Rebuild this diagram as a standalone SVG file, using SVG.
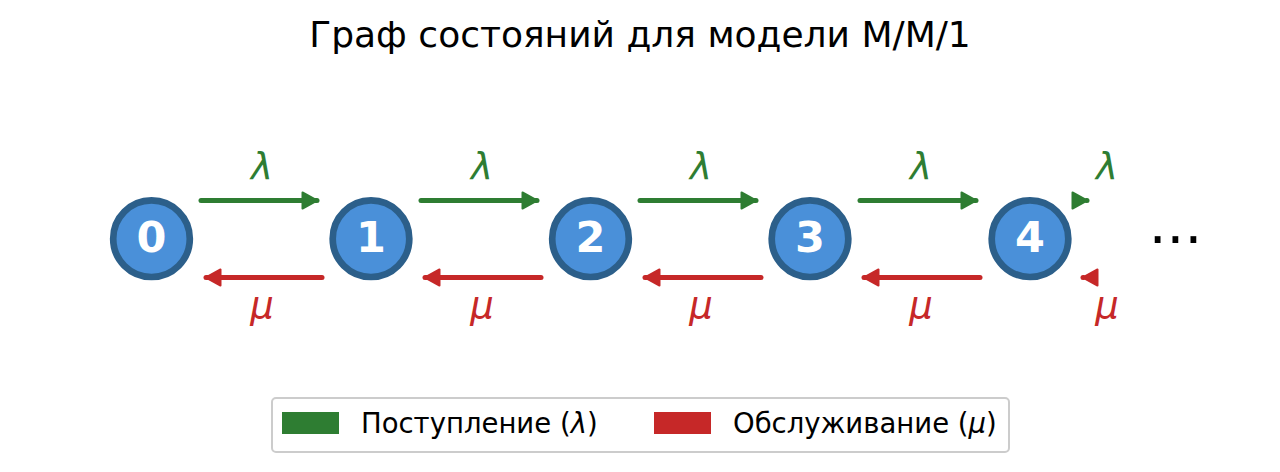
<svg xmlns="http://www.w3.org/2000/svg" width="1280" height="472" viewBox="0 0 1280 472">
<style>
.node circle{fill:#4a90d9;stroke:#2c5f8a;stroke-width:6.7}
.node text{font-family:"DejaVu Sans",sans-serif;font-weight:bold;font-size:43px;fill:#fff;text-anchor:middle}
.arr{stroke-width:5;stroke-linecap:round;fill:none}
.g{stroke:#2e7d32}
.r{stroke:#c62828}
.lbl{font-family:"DejaVu Sans",sans-serif;font-style:italic;font-size:37px;text-anchor:middle}
.title{font-family:"DejaVu Sans",sans-serif;font-size:36px;fill:#000;text-anchor:middle}
.leg{font-family:"DejaVu Sans",sans-serif;font-size:27.5px;fill:#000}
</style>
<defs>
<marker id="hg" markerUnits="userSpaceOnUse" markerWidth="24" markerHeight="24" refX="16" refY="10" orient="auto">
<path d="M1.5,2 L16,10 L1.5,18 Z" fill="#2e7d32" stroke="#2e7d32" stroke-width="2" stroke-linejoin="round"/>
</marker>
<marker id="hr" markerUnits="userSpaceOnUse" markerWidth="24" markerHeight="24" refX="16" refY="10" orient="auto">
<path d="M1.5,2 L16,10 L1.5,18 Z" fill="#c62828" stroke="#c62828" stroke-width="2" stroke-linejoin="round"/>
</marker>
</defs>
<rect width="1280" height="472" fill="#fff"/>
<text class="title" x="640" y="47">Граф состояний для модели M/M/1</text>
<g id="connectors">
<path class="arr g" d="M201,200.5 H317" marker-end="url(#hg)"/>
<path class="arr g" d="M421,200.5 H537" marker-end="url(#hg)"/>
<path class="arr g" d="M640,200.5 H756" marker-end="url(#hg)"/>
<path class="arr g" d="M860,200.5 H976" marker-end="url(#hg)"/>
<path class="arr g" d="M1086.5,200.5 H1087" marker-end="url(#hg)" stroke-width="0"/>
<path class="arr r" d="M322,277.5 H206" marker-end="url(#hr)"/>
<path class="arr r" d="M541,277.5 H425" marker-end="url(#hr)"/>
<path class="arr r" d="M761,277.5 H645" marker-end="url(#hr)"/>
<path class="arr r" d="M980,277.5 H864" marker-end="url(#hr)"/>
<path class="arr r" d="M1083.5,277.5 H1083" marker-end="url(#hr)" stroke-width="0"/>
<text class="lbl" x="262" y="179" fill="#2e7d32">λ</text>
<text class="lbl" x="482" y="179" fill="#2e7d32">λ</text>
<text class="lbl" x="701" y="179" fill="#2e7d32">λ</text>
<text class="lbl" x="921" y="179" fill="#2e7d32">λ</text>
<text class="lbl" x="1107" y="179" fill="#2e7d32">λ</text>
<text class="lbl" x="262" y="318" fill="#c62828">μ</text>
<text class="lbl" x="482" y="318" fill="#c62828">μ</text>
<text class="lbl" x="701" y="318" fill="#c62828">μ</text>
<text class="lbl" x="921" y="318" fill="#c62828">μ</text>
<text class="lbl" x="1107" y="318" fill="#c62828">μ</text>
</g>
<g id="n0" class="node"><circle cx="151.5" cy="238.7" r="38.3"/><text x="151.5" y="252">0</text></g>
<g id="n1" class="node"><circle cx="371" cy="238.7" r="38.3"/><text x="371" y="252">1</text></g>
<g id="n2" class="node"><circle cx="590.5" cy="238.7" r="38.3"/><text x="590.5" y="252">2</text></g>
<g id="n3" class="node"><circle cx="810" cy="238.7" r="38.3"/><text x="810" y="252">3</text></g>
<g id="n4" class="node"><circle cx="1030" cy="238.7" r="38.3"/><text x="1030" y="252">4</text></g>
<text id="ellipsis" x="1175.5" y="243" font-family="DejaVu Sans, sans-serif" font-size="56" text-anchor="middle" fill="#000">...</text>
<g id="legend">
<rect x="272" y="398" width="737" height="54" rx="4" fill="#fff" stroke="#cccccc" stroke-width="2"/>
<rect x="282" y="412" width="57" height="22" fill="#2e7d32"/>
<text class="leg" x="361" y="433">Поступление (<tspan font-style="italic">λ</tspan>)</text>
<rect x="654" y="412" width="57" height="22" fill="#c62828"/>
<text class="leg" x="733" y="433">Обслуживание (<tspan font-style="italic">μ</tspan>)</text>
</g>
</svg>
